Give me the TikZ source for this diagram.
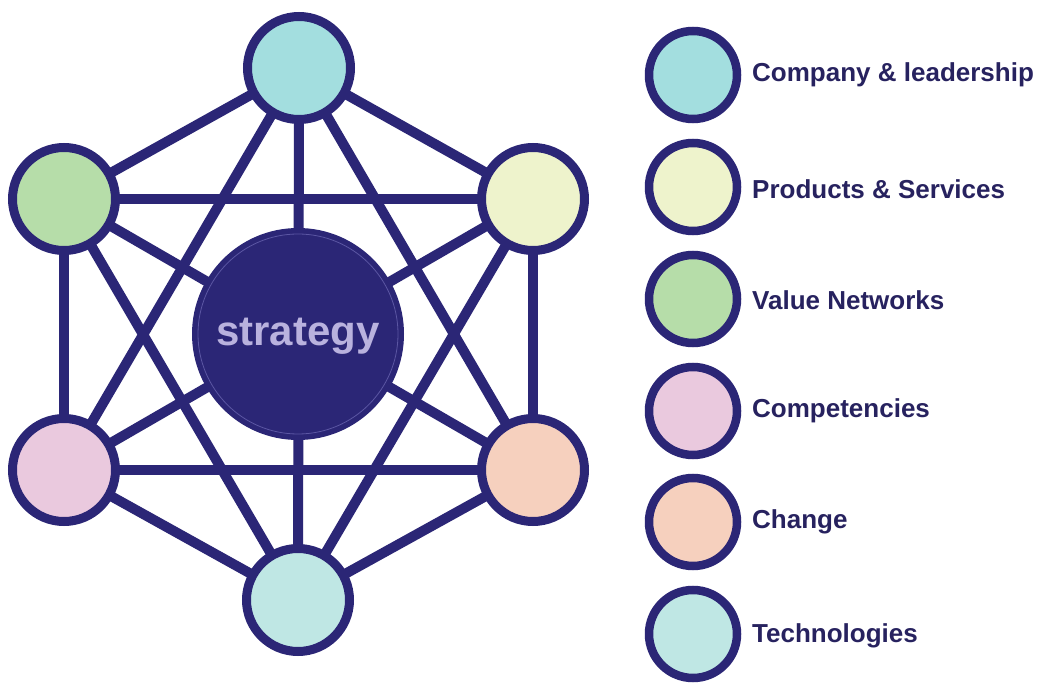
\documentclass[tikz,border=0pt]{standalone}
\usepackage{fontspec}
\setmainfont{Liberation Sans}
\begin{document}
\begin{tikzpicture}[x=1pt,y=-1pt,
  link/.style={draw=navyc,line width=10pt},
  hub/.style={circle,draw=navyc,line width=9pt,minimum size=103pt,inner sep=0pt},
  key/.style={circle,draw=navyc,line width=8.5pt,minimum size=88pt,inner sep=0pt},
  lab/.style={anchor=west,text=navyt,font=\bfseries\fontsize{26}{28}\selectfont,inner sep=0pt}]
\definecolor{navyc}{HTML}{2B2676}
\definecolor{navyt}{HTML}{27225F}
\definecolor{cA}{HTML}{A3DEDF}
\definecolor{cB}{HTML}{EEF3CC}
\definecolor{cC}{HTML}{B6DDA9}
\definecolor{cD}{HTML}{EAC9DE}
\definecolor{cE}{HTML}{F6D0BE}
\definecolor{cF}{HTML}{BFE7E4}
\definecolor{strtext}{HTML}{B9B2DE}
\definecolor{ringc}{HTML}{5B56A3}
\useasboundingbox[fill=white] (0,0) rectangle (1039,684);
% nodes of hexagon
\coordinate (pT) at (299,68);
\coordinate (pUL) at (64,199);
\coordinate (pUR) at (533,199);
\coordinate (pLL) at (64,470);
\coordinate (pLR) at (533,470);
\coordinate (pB) at (298,600);
% connectors (complete graph)
\foreach \a/\b in {pT/pUL,pT/pUR,pT/pLL,pT/pLR,pT/pB,
                   pUL/pUR,pUL/pLL,pUL/pLR,pUL/pB,
                   pUR/pLL,pUR/pLR,pUR/pB,
                   pLL/pLR,pLL/pB,pLR/pB}
  \draw[link] (\a) -- (\b);
% center
\node[circle,fill=navyc,minimum size=212pt,inner sep=0pt] (strat) at (298,334) {};
\draw[ringc,line width=0.8pt] (strat.center) circle (100pt);
\node[text=strtext,font=\bfseries\fontsize{42}{44}\selectfont,inner sep=0pt] (strtxt) at (298,336) {strategy};
% outer circles
\node[hub,fill=cA] (nT) at (pT) {};
\node[hub,fill=cB] (nUR) at (pUR) {};
\node[hub,fill=cC] (nUL) at (pUL) {};
\node[hub,fill=cD] (nLL) at (pLL) {};
\node[hub,fill=cE] (nLR) at (pLR) {};
\node[hub,fill=cF] (nB) at (pB) {};
% legend
\node[key,fill=cA] (k1) at (693,75) {};
\node[key,fill=cB] (k2) at (693,187) {};
\node[key,fill=cC] (k3) at (693,299) {};
\node[key,fill=cD] (k4) at (693,411) {};
\node[key,fill=cE] (k5) at (693,522) {};
\node[key,fill=cF] (k6) at (693,634) {};
\node[lab] (l1) at (752,75) {Company \& leadership};
\node[lab] (l2) at (752,189) {Products \& Services};
\node[lab] (l3) at (752,300) {Value Networks};
\node[lab] (l4) at (752,411) {Competencies};
\node[lab] (l5) at (752,522) {Change};
\node[lab] (l6) at (752,636) {Technologies};
\end{tikzpicture}
\end{document}
